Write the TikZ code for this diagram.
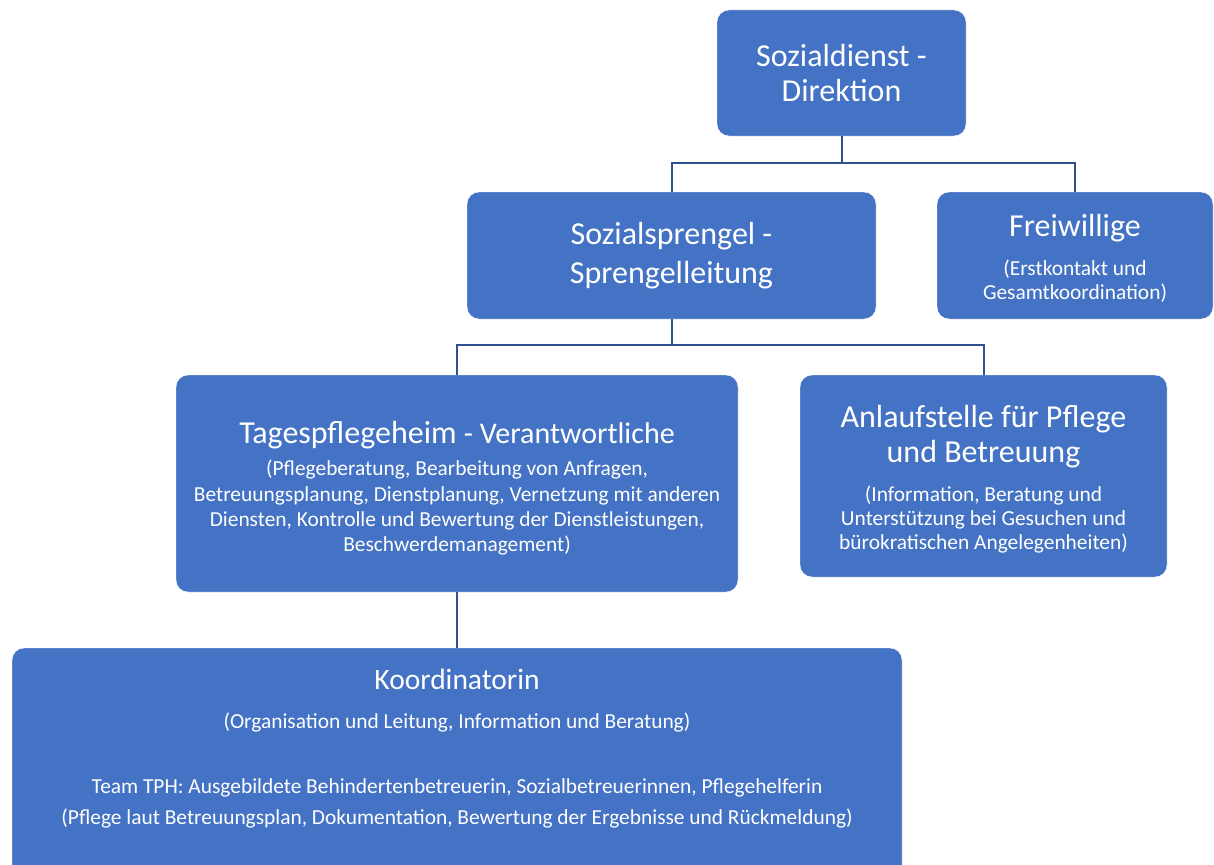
\documentclass[tikz,border=0pt]{standalone}
\usepackage{fontspec}
\setmainfont{Carlito}
\definecolor{boxblue}{HTML}{4472C4}
\definecolor{lineblue}{HTML}{2F528F}
\newcommand{\ttlfont}{\fontsize{32}{35}\selectfont}
\newcommand{\subfont}{\fontsize{21.4}{24}\selectfont}

\begin{document}
\begin{tikzpicture}[x=1pt,y=-1pt,
    orgbox/.style={fill=boxblue,draw=white,rounded corners=12pt,text=white,
      align=center,inner sep=0pt,font=\subfont},
    link/.style={draw=lineblue,line width=2pt}]
  \useasboundingbox (0,0) rectangle (1214,864);
  \clip (0,0) rectangle (1214,864);

  \node [orgbox,minimum width=249pt,minimum height=126pt] (dir) at (841.5,73)
    {{\ttlfont Sozialdienst -}\\[11pt]{\ttlfont Direktion}};
  \node [orgbox,minimum width=409pt,minimum height=127pt] (spr) at (671.5,255.5)
    {{\ttlfont Sozialsprengel -}\\[11pt]{\ttlfont Sprengelleitung}};
  \node [orgbox,minimum width=276pt,minimum height=127pt] (frei) at (1075,255.5)
    {\rule{0pt}{27pt}{\ttlfont Freiwillige}\\[15pt](Erstkontakt und\\Gesamtkoordination)};
  \node [orgbox,minimum width=562pt,minimum height=217pt] (tag) at (457,483.5)
    {\rule{0pt}{32pt}{\ttlfont Tagespflegeheim {\fontsize{30}{35}\selectfont - Verantwortliche}}\\[8pt]
     (Pflegeberatung, Bearbeitung von Anfragen,\\[1.3pt]Betreuungsplanung, Dienstplanung, Vernetzung mit anderen\\[1.3pt]
     Diensten, Kontrolle und Bewertung der Dienstleistungen,\\[1.3pt]Beschwerdemanagement)};
  \node [orgbox,minimum width=367pt,minimum height=202pt] (anl) at (983.5,476)
    {\rule{0pt}{28pt}{\ttlfont Anlaufstelle für Pflege}\\[6pt]{\ttlfont und Betreuung}\\[15pt](Information, Beratung und\\
     Unterstützung bei Gesuchen und\\bürokratischen Angelegenheiten)};
  \node [orgbox,minimum width=890pt,minimum height=240pt] (koord) at (457,768)
    {{\fontsize{29.5}{35}\selectfont Koordinatorin}\\[15pt]
     (Organisation und Leitung, Information und Beratung)\\[41pt]
     Team TPH: Ausgebildete Behindertenbetreuerin, Sozialbetreuerinnen, Pflegehelferin\\[7pt]
     (Pflege laut Betreuungsplan, Dokumentation, Bewertung der Ergebnisse und Rückmeldung)\rule[-42pt]{0pt}{0pt}};

  \draw[link] (dir.south) -- ++(0,27) -| (spr.north);
  \draw[link] (dir.south) -- ++(0,27) -| (frei.north);
  \draw[link] (spr.south) -- ++(0,26) -| (tag.north);
  \draw[link] (spr.south) -- ++(0,26) -| (anl.north);
  \draw[link] (tag) -- (koord);
\end{tikzpicture}
\end{document}
